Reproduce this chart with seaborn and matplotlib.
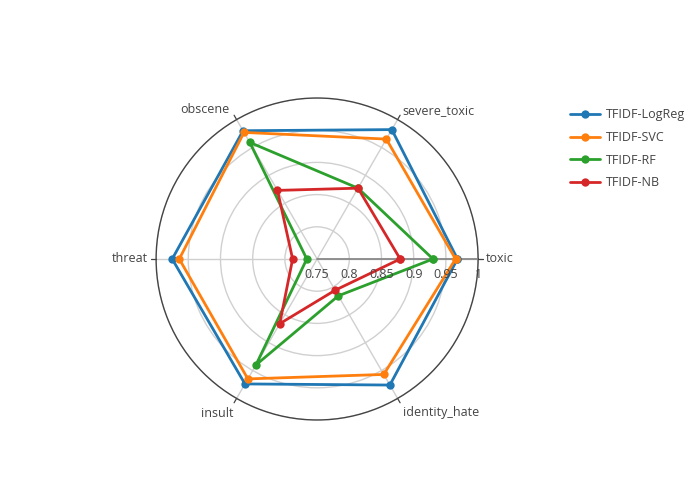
import numpy as np
import pandas as pd
import matplotlib
matplotlib.use("Agg")
import matplotlib.pyplot as plt
import matplotlib.transforms as mtransforms
from matplotlib.lines import Line2D
import seaborn as sns

categories = ["toxic", "severe_toxic", "obscene", "threat", "insult", "identity_hate"]
models = ["TFIDF-LogReg", "TFIDF-SVC", "TFIDF-RF", "TFIDF-NB"]
logreg = [0.968, 0.982, 0.980, 0.975, 0.974, 0.976]
svc = [0.965, 0.965, 0.977, 0.964, 0.965, 0.957]
rf = [0.930, 0.877, 0.959, 0.766, 0.940, 0.816]
nb = [0.879, 0.877, 0.873, 0.788, 0.866, 0.806]
radial_ticks = [0.75, 0.8, 0.85, 0.9, 0.95, 1]
radial_tick_labels = ["0.75", "0.8", "0.85", "0.9", "0.95", "1"]
colors = ["#1f77b4", "#ff7f0e", "#2ca02c", "#d62728"]

sns.set_style("white")
plt.rcParams["font.family"] = ["Open Sans", "DejaVu Sans"]

n = len(categories)
angles = np.arange(n) * 2 * np.pi / n
rows = []
for m, vals in zip(models, [logreg, svc, rf, nb]):
    for i, (a, v) in enumerate(zip(list(angles) + [2 * np.pi], list(vals) + [vals[0]])):
        rows.append({"model": m, "theta": a, "r": v, "order": i})
df = pd.DataFrame(rows)

fig = plt.figure(figsize=(7, 5), dpi=100)
ax = fig.add_axes([0.223, 0.16, 0.46, 0.644], projection="polar")
ax.set_ylim(0.75, 1.0)

sns.lineplot(data=df, x="theta", y="r", hue="model", hue_order=models,
             palette=colors, sort=False, estimator=None, units="model",
             marker="o", markersize=6, markeredgewidth=0, linewidth=2,
             ax=ax, legend=False, zorder=5)
for ln in ax.lines:
    ln.set_clip_on(False)

ax.set_xlabel("")
ax.set_ylabel("")
ax.set_xticks(angles)
ax.set_xticklabels([])

# outward angular tick marks (about 5 px beyond the outer circle)
tick_len = 5 / 161 * 0.25
for a in angles:
    ax.plot([a, a], [1.0, 1.0 + tick_len], color="#444444", linewidth=0.9,
            clip_on=False, zorder=4)

label_style = {
    "toxic": (8, 0, "left"),
    "severe_toxic": (5, 9, "left"),
    "obscene": (-7.5, 10, "right"),
    "threat": (-8, 0, "right"),
    "insult": (-3.5, -15, "right"),
    "identity_hate": (5, -14.5, "left"),
}
for cat, a in zip(categories, angles):
    dx, dy, ha = label_style[cat]
    off = mtransforms.ScaledTranslation(dx / 100, dy / 100, fig.dpi_scale_trans)
    ax.text(a, 1.0, cat, transform=ax.transData + off, ha=ha, va="center",
            fontsize=9, color="#444444", clip_on=False)

ax.set_yticks(radial_ticks)
ax.set_yticklabels([])
ax.grid(True, color="#d0d0d0", linewidth=1)
ax.spines["polar"].set_color("#444444")
ax.spines["polar"].set_linewidth(1)

ax.plot([0, 0], [0.75, 1.0], color="#888888", linewidth=1.3, zorder=3)
offset = mtransforms.ScaledTranslation(0, -9 / 100, fig.dpi_scale_trans)
for t, lbl in zip(radial_ticks, radial_tick_labels):
    ax.text(0, t, lbl, transform=ax.transData + offset, ha="center", va="top",
            fontsize=9, color="#444444", zorder=6)

handles = [Line2D([0], [0], color=c, lw=2, marker="o", markersize=6, markeredgewidth=0)
           for c in colors]
fig.legend(handles, models, loc="upper left", bbox_to_anchor=(0.798, 0.806),
           frameon=False, fontsize=9, handlelength=2.4, labelspacing=0.78,
           handletextpad=0.5, labelcolor="#444444")

fig.savefig("out.png", dpi=100)
